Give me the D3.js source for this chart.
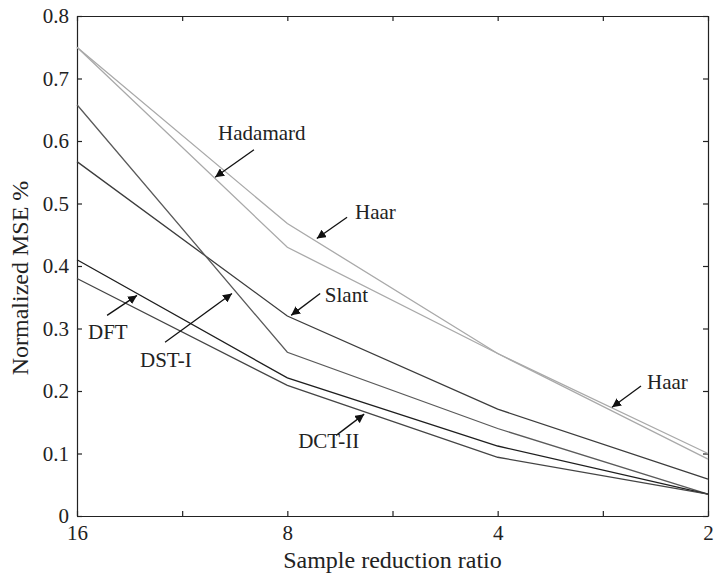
<!DOCTYPE html>
<html>
<head>
<meta charset="utf-8">
<script src="https://cdn.jsdelivr.net/npm/d3@7"></script>
<style>
  body { margin: 0; background: #fff; }
  svg text { font-family: "Liberation Serif", "DejaVu Serif", "Times New Roman", serif; }
</style>
</head>
<body>
<div id="chart"></div>
<script>
// Normalized MSE vs sample reduction ratio, one line per transform

const ratios = [16, 8, 4, 2];
const haar     = [0.75, 0.468, 0.26, 0.100];
const hadamard = [0.75, 0.430, 0.26, 0.091];
const slant    = [0.567, 0.320, 0.171, 0.059];
const dstI     = [0.658, 0.262, 0.140, 0.035];
const dft      = [0.410, 0.221, 0.112, 0.035];
const dctII    = [0.380, 0.209, 0.094, 0.035];

const xTickValues = [16, 8 * Math.SQRT2, 8, 4 * Math.SQRT2, 4, 2 * Math.SQRT2, 2];
const yTickValues = [0, 0.1, 0.2, 0.3, 0.4, 0.5, 0.6, 0.7, 0.8];

// label annotations: arrow tail -> tip, text anchor (all in data units)
const annotations = [
  { text: "Hadamard", tx: 10.05, ty: 0.601, from: [8.93, 0.586], to: [10.15, 0.542] },
  { text: "Haar",     tx: 6.40,  ty: 0.476, from: [6.57, 0.478], to: [7.26, 0.444] },
  { text: "Slant",    tx: 7.07,  ty: 0.342, from: [7.18, 0.356], to: [7.90, 0.321] },
  { text: "DFT",      tx: 15.43, ty: 0.283, from: [14.49, 0.321], to: [13.13, 0.353] },
  { text: "DST-I",    tx: 13.0,  ty: 0.238, from: [11.97, 0.278], to: [9.60, 0.356] },
  { text: "DCT-II",   tx: 7.72,  ty: 0.109, from: [6.81, 0.129], to: [6.21, 0.163] },
  { text: "Haar",     tx: 2.445, ty: 0.204, from: [2.494, 0.208], to: [2.744, 0.174] }
];

const series = [
  { name: "Haar", values: haar, color: "#a9a9a9" },
  { name: "Hadamard", values: hadamard, color: "#a9a9a9" },
  { name: "Slant", values: slant, color: "#3c3c3c" },
  { name: "DST-I", values: dstI, color: "#5a5a5a" },
  { name: "DFT", values: dft, color: "#1e1e1e" },
  { name: "DCT-II", values: dctII, color: "#444" }
];

const FONT = '"Liberation Serif", "DejaVu Serif", serif';

const width = 715, height = 575;
const margin = { top: 16, right: 7, bottom: 59, left: 77 };
const innerW = width - margin.left - margin.right;
const innerH = height - margin.top - margin.bottom;

const svg = d3.select("#chart").append("svg")
  .attr("width", width)
  .attr("height", height)
  .attr("font-family", FONT);

svg.append("defs").append("marker")
  .attr("id", "arrow")
  .attr("viewBox", "0 0 10 10")
  .attr("refX", 10).attr("refY", 5)
  .attr("markerWidth", 9).attr("markerHeight", 9)
  .attr("markerUnits", "userSpaceOnUse")
  .attr("orient", "auto")
  .append("path")
  .attr("d", "M0,0 L10,5 L0,10 Z")
  .attr("fill", "#111");

const g = svg.append("g")
  .attr("transform", `translate(${margin.left},${margin.top})`);

const x = d3.scaleLog().base(2).domain([16, 2]).range([0, innerW]);
const y = d3.scaleLinear().domain([0, 0.8]).range([innerH, 0]);

const fmtX = d => Number.isInteger(d) ? d : "";

// axes with inward ticks on all four sides
const styleAxis = sel => {
  sel.attr("font-family", FONT).attr("font-size", 21);
  sel.select(".domain").attr("stroke", "#222").attr("stroke-width", 1.2);
  sel.selectAll(".tick line").attr("stroke", "#222").attr("stroke-width", 1.2);
  sel.selectAll("text").attr("fill", "#222");
};

g.append("g")
  .attr("transform", `translate(0,${innerH})`)
  .call(d3.axisBottom(x).tickValues(xTickValues).tickFormat(fmtX)
    .tickSizeInner(-5).tickSizeOuter(0).tickPadding(9))
  .call(styleAxis);

g.append("g")
  .call(d3.axisTop(x).tickValues(xTickValues).tickFormat("")
    .tickSizeInner(-5).tickSizeOuter(0))
  .call(styleAxis);

g.append("g")
  .call(d3.axisLeft(y).tickValues(yTickValues).tickFormat(d => d === 0 ? "0" : d3.format(".1f")(d))
    .tickSizeInner(-5).tickSizeOuter(0).tickPadding(8))
  .call(styleAxis);

g.append("g")
  .attr("transform", `translate(${innerW},0)`)
  .call(d3.axisRight(y).tickValues(yTickValues).tickFormat("")
    .tickSizeInner(-5).tickSizeOuter(0))
  .call(styleAxis);

// lines
const line = d3.line()
  .x((d, i) => x(ratios[i]))
  .y(d => y(d));

g.selectAll(".series")
  .data(series)
  .enter()
  .append("path")
  .attr("class", "series")
  .attr("d", d => line(d.values))
  .attr("fill", "none")
  .attr("stroke", d => d.color)
  .attr("stroke-width", 1.3);

// annotations
annotations.forEach(a => {
  g.append("line")
    .attr("x1", x(a.from[0])).attr("y1", y(a.from[1]))
    .attr("x2", x(a.to[0])).attr("y2", y(a.to[1]))
    .attr("stroke", "#111")
    .attr("stroke-width", 1.3)
    .attr("marker-end", "url(#arrow)");
  g.append("text")
    .attr("x", x(a.tx)).attr("y", y(a.ty))
    .attr("fill", "#222")
    .attr("font-size", 21)
    .text(a.text);
});

// axis titles
svg.append("text")
  .attr("x", margin.left + innerW / 2)
  .attr("y", 568)
  .attr("text-anchor", "middle")
  .attr("fill", "#222")
  .attr("font-size", 24)
  .text("Sample reduction ratio");

svg.append("text")
  .attr("transform", `translate(28,278) rotate(-90)`)
  .attr("text-anchor", "middle")
  .attr("fill", "#222")
  .attr("font-size", 24)
  .text("Normalized MSE %");
</script>
</body>
</html>
